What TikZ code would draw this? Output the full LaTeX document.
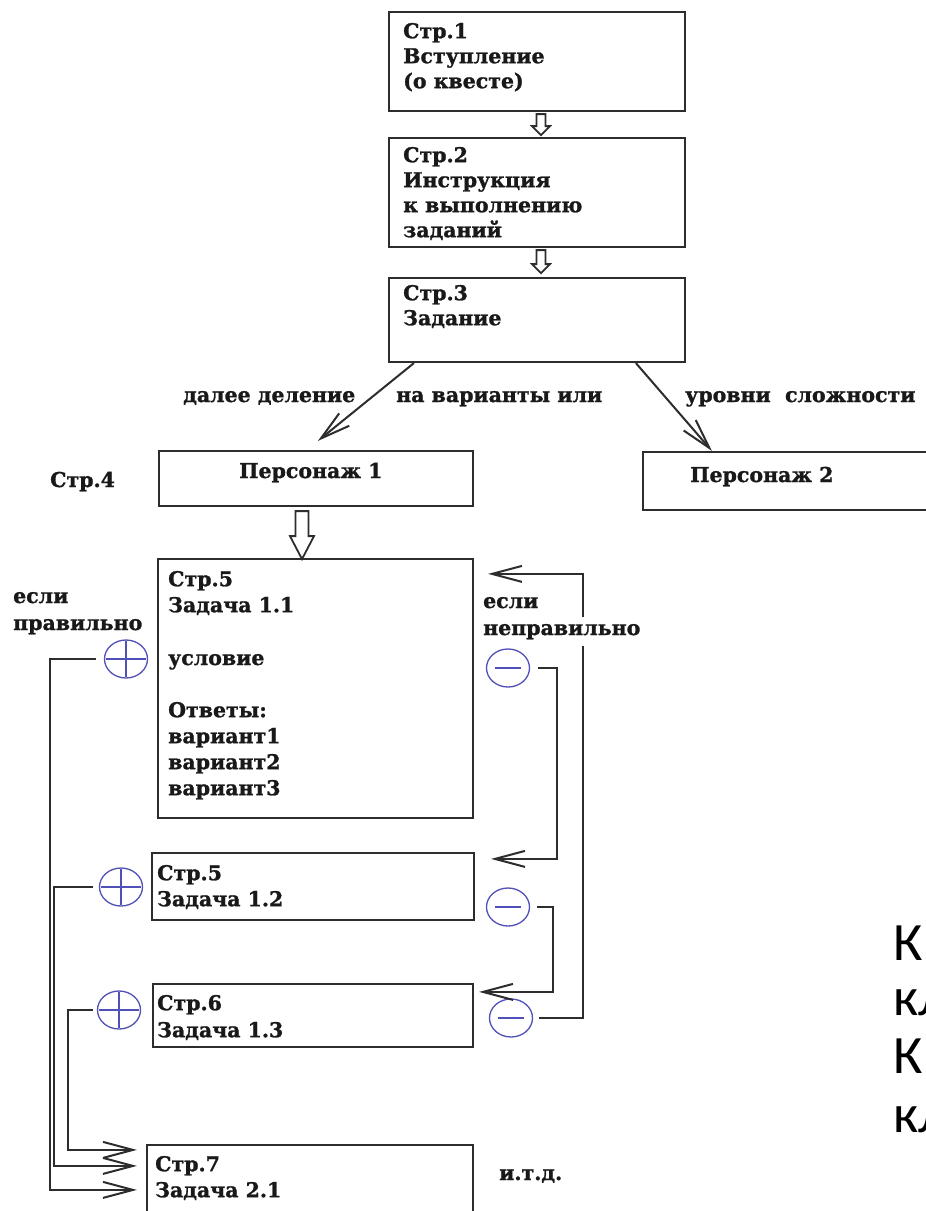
\documentclass[tikz,border=0pt]{standalone}
\usepackage{fontspec}
\setmainfont{DejaVu Serif}[BoldFeatures={FakeBold=1.2}]
\newfontfamily\carl{Carlito}
\usetikzlibrary{arrows.meta,calc,shapes.geometric}
\definecolor{ln}{RGB}{45,45,45}
\definecolor{cb}{RGB}{80,80,185}
\definecolor{tx}{RGB}{25,25,25}
\newcommand{\fls}{\rule{0pt}{16pt}}
\newcommand{\bxf}[1]{\bfseries\fontsize{20.5}{#1}\selectfont}
\tikzset{
  pics/harrow/.style args={#1/#2/#3/#4}{code={
    \draw[hollow] (-#1/2,0) -- (-#1/2,#4-#3) -- (-#2/2,#4-#3) -- (0,#4)
      -- (#2/2,#4-#3) -- (#1/2,#4-#3) -- (#1/2,0) -- cycle;
  }}
}
\begin{document}
\begin{tikzpicture}[x=1pt,y=-1pt,
  box/.style={draw=ln, line width=2.2pt, inner sep=0pt},
  txt/.style={anchor=north west, inner sep=0pt, align=left, text=tx},
  lbl/.style={anchor=base west, inner sep=0pt, text=tx, font=\bxf{25}},
  conn/.style={draw=ln, line width=2pt, -{Straight Barb[length=30pt,width=16pt]}},
  hollow/.style={draw=ln, line width=1.8pt, fill=white, line join=miter},
  sgn/.style={draw=cb, line width=1.3pt, ellipse, minimum width=43pt, minimum height=38pt, inner sep=0pt},
  sgnline/.style={draw=cb, line width=1.3pt},
  big/.style={anchor=base west, inner sep=0pt, text=black, font=\carl\fontsize{54}{54}\selectfont},
]
\useasboundingbox (0,0) rectangle (926,1211);
\fill[white] (0,0) rectangle (926,1211);
\clip (0,0) rectangle (926,1211);

% boxes
\node[box, minimum width=296, minimum height=99] (b1) at (537,61.5) {};
\node[box, minimum width=296, minimum height=109] (b2) at (537,192.5) {};
\node[box, minimum width=296, minimum height=84] (b3) at (537,320) {};
\node[box, minimum width=314, minimum height=55] (p1) at (316,478.5) {};
\node[box, minimum width=317, minimum height=58] (p2) at (801.5,481) {};
\node[box, minimum width=315, minimum height=259] (b5) at (315.5,688.5) {};
\node[box, minimum width=322, minimum height=67] (b12) at (313,886.5) {};
\node[box, minimum width=320, minimum height=63] (b13) at (313,1015.5) {};
\node[box, minimum width=326, minimum height=95] (b7) at (310,1192.5) {};

% box texts
\node[txt, font=\bxf{25}] (t1) at (403,22) {\fls Стр.1\\Вступление\\(о квесте)};
\node[txt, font=\bxf{25}] (t2) at (403,146) {\fls Стр.2\\Инструкция\\к выполнению\\заданий};
\node[txt, font=\bxf{25}] (t3) at (403,284) {\fls Стр.3\\Задание};
\node[txt, font=\bxf{26}] (t5a) at (168,570) {\fls Стр.5\\Задача 1.1};
\node[lbl] (t5b) at (168,665) {условие};
\node[txt, font=\bxf{26}] (t5c) at (168,701) {\fls Ответы:\\вариант1\\вариант2\\вариант3};
\node[txt, font=\bxf{26}] (t12) at (157,864) {\fls Стр.5\\Задача 1.2};
\node[txt, font=\bxf{27}] (t13) at (157,994) {\fls Стр.6\\Задача 1.3};
\node[txt, font=\bxf{26}] (t7) at (155,1155) {\fls Стр.7\\Задача 2.1};
\node[lbl] (etc) at (499,1180) {и.т.д.};
\node[lbl] (tp1) at (239,478) {Персонаж 1};
\node[lbl] (str4) at (50,487) {Стр.4};
\node[lbl] (tp2) at (690,482) {Персонаж 2};
\node[lbl] (d1) at (183,402) {далее деление};
\node[lbl] (d2) at (396,402) {на варианты или};
\node[lbl] (d3) at (685,402) {уровни\ \ сложности};
\node[lbl] (yes1) at (13,603) {если};
\node[lbl] (yes2) at (13,630) {правильно};
\node[lbl] (no1) at (483,608) {если};

% hollow arrows
\pic at ($(b1.south)+(4,2)$) {harrow={9/18/9/21}};
\pic at ($(b2.south)+(4,2)$) {harrow={9/18/9/23}};
\pic at ($(p1.south)+(-14,4)$) {harrow={13/24/23/48}};

% split arrows
\draw[conn] ($(b3.south west)+(26,0)$) -- ($(p1.north west)+(160,-9)$);
\draw[conn] ($(b3.south west)+(248,0)$) -- ($(p2.north west)+(70,0)$);

% sign circles
\node[sgn] (pl1) at (126,659) {};
\node[sgn] (pl2) at (121,887) {};
\node[sgn] (pl3) at (119,1010) {};
\node[sgn] (mi1) at (508,668) {};
\node[sgn] (mi2) at (508,907) {};
\node[sgn] (mi3) at (511,1018) {};
\foreach \p in {pl1,pl2,pl3}{
  \draw[sgnline] ([yshift=-2pt]\p.north) -- ([yshift=2pt]\p.south)
                 ([xshift=2pt]\p.west) -- ([xshift=-2pt]\p.east);
}
\foreach \m in {mi1,mi2,mi3}{
  \draw[sgnline] ([xshift=-13pt]\m.center) -- ([xshift=13pt]\m.center);
}

% correct-answer connectors
\draw[conn] ([xshift=-8pt]pl1.west) -- ++(-46,0) |- ($(b7.north west)+(-9,46)$);
\draw[conn] ([xshift=-6pt]pl2.west) -- ++(-39,0) |- ($(b7.north west)+(-9,22)$);
\draw[conn] ([xshift=-4pt]pl3.west) -- ++(-25,0) |- ($(b7.north west)+(-9,6)$);

% wrong-answer connectors
\draw[conn] ([xshift=8pt]mi1.east) -- ++(19,0) |- ($(b12.north east)+(16,7)$);
\draw[conn] ([xshift=7pt]mi2.east) -- ++(16,0) |- ($(b13.north east)+(5,9)$);
\draw[conn] ([xshift=6pt]mi3.east) -- ++(44,0) |- ($(b5.north east)+(14,16)$);

\node[lbl, fill=white, inner ysep=7pt] (no2) at (483,635) {неправильно};

% text cut by the right edge, as in the reference
\node[big] (k1) at (893,960) {К};
\node[big] (k2) at (893,1015) {кл};
\node[big] (k3) at (893,1073) {К};
\node[big] (k4) at (893,1132) {кл};
\end{tikzpicture}
\end{document}
